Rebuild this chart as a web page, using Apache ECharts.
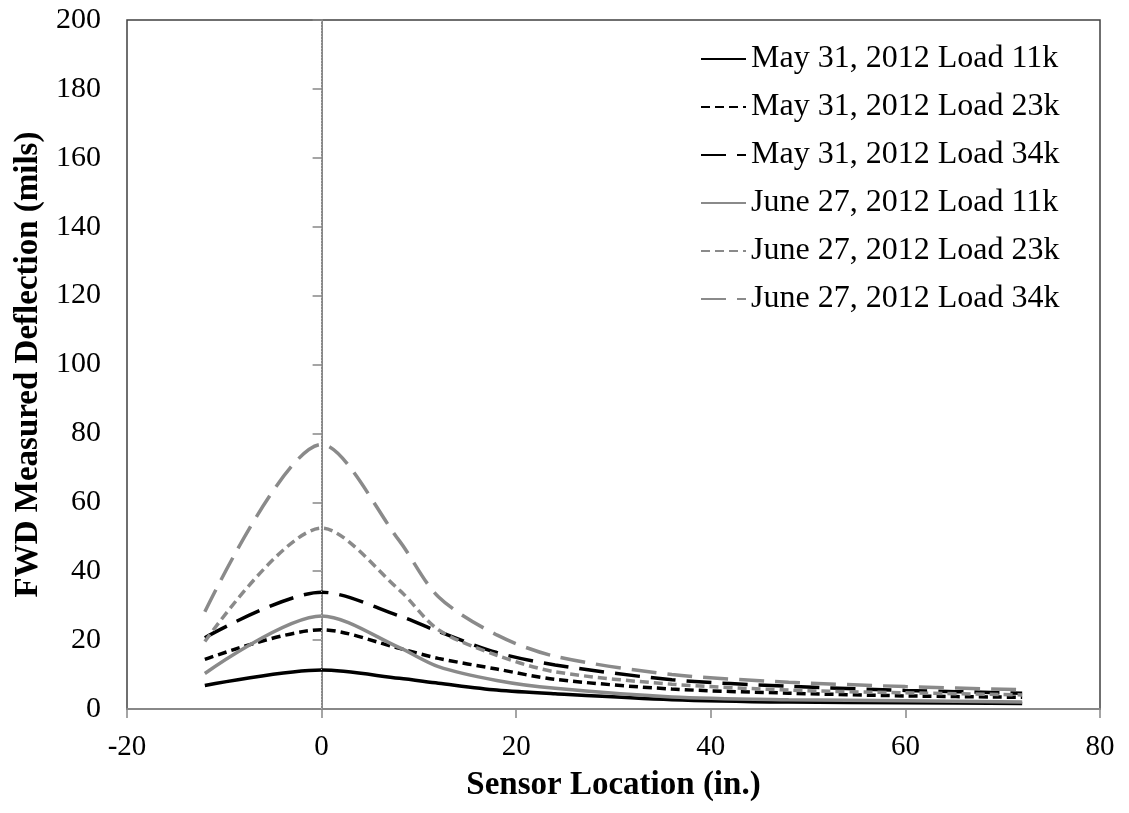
<!DOCTYPE html>
<html>
<head>
<meta charset="utf-8">
<script src="https://cdn.jsdelivr.net/npm/echarts@6/dist/echarts.min.js"></script>
<style>
  html, body { margin: 0; padding: 0; background: #fff; }
  #chart { width: 1129px; height: 813px; }
</style>
</head>
<body>
<div id="chart"></div>
<script>
// Sensor offsets from the load plate (in.)
var sensorLocations = [-12, 0, 8, 12, 18, 24, 36, 48, 60, 72];

// Measured deflections (mils) per test date and load level
var may11k  = [6.8, 11.3, 8.9, 7.5, 5.5, 4.4, 2.7, 2.0, 1.8, 1.6];
var may23k  = [14.4, 23.0, 17.6, 14.7, 11.6, 8.6, 5.8, 4.6, 3.8, 3.4];
var may34k  = [20.7, 33.9, 27.0, 22.5, 16.4, 12.8, 8.5, 6.6, 5.4, 4.6];
var june11k = [10.3, 27.0, 17.8, 12.3, 8.3, 6.0, 3.5, 2.7, 2.4, 2.0];
var june23k = [19.6, 52.5, 34.5, 23.0, 15.6, 10.8, 7.2, 5.5, 4.7, 4.1];
var june34k = [28.2, 76.8, 48.8, 32.6, 21.5, 15.3, 10.0, 7.8, 6.5, 5.6];

var seriesNames = [
  'May 31, 2012 Load 11k',
  'May 31, 2012 Load 23k',
  'May 31, 2012 Load 34k',
  'June 27, 2012 Load 11k',
  'June 27, 2012 Load 23k',
  'June 27, 2012 Load 34k'
];

function pairs(values) {
  return sensorLocations.map(function (x, i) { return [x, values[i]]; });
}

var BLACK = '#000000';
var GREY = '#8a8a8a';
var SHORT_DASH = [9, 5];
var LONG_DASH = [25, 11];
var FONT = '"Liberation Serif", "Times New Roman", serif';

function lineSeries(name, values, color, dash) {
  return {
    name: name,
    type: 'line',
    data: pairs(values),
    smooth: 0.3,
    symbol: 'none',
    showSymbol: false,
    lineStyle: { color: color, width: 3.5, type: dash, cap: 'butt' },
    itemStyle: { color: color },
    z: 3
  };
}

var series = [
  lineSeries(seriesNames[0], may11k, BLACK, 'solid'),
  lineSeries(seriesNames[1], may23k, BLACK, SHORT_DASH),
  lineSeries(seriesNames[2], may34k, BLACK, LONG_DASH),
  lineSeries(seriesNames[3], june11k, GREY, 'solid'),
  lineSeries(seriesNames[4], june23k, GREY, SHORT_DASH),
  lineSeries(seriesNames[5], june34k, GREY, LONG_DASH)
];

// Dotted reference line at the load centre, drawn as its own series
series.unshift({
  name: 'centre',
  type: 'line',
  data: [],
  symbol: 'none',
  silent: true,
  z: 1,
  markLine: {
    silent: true,
    symbol: ['none', 'none'],
    label: { show: false },
    emphasis: { disabled: true },
    lineStyle: { color: '#b4b4b4', width: 1, type: [1, 2] },
    data: [{ xAxis: 0 }]
  }
});

var chart = echarts.init(document.getElementById('chart'), null, { renderer: 'canvas' });

chart.setOption({
  animation: false,
  backgroundColor: '#ffffff',
  textStyle: { fontFamily: FONT },
  grid: {
    left: 127, right: 29, top: 20, bottom: 104,
    show: true,
    borderColor: '#404040',
    borderWidth: 1.5,
    backgroundColor: '#ffffff'
  },
  legend: {
    orient: 'vertical',
    left: 695,
    top: 38,
    itemWidth: 45,
    itemHeight: 14,
    itemGap: 16,
    selectedMode: false,
    itemStyle: { opacity: 0, borderWidth: 0 },
    textStyle: { fontFamily: FONT, fontSize: 32, color: '#000', lineHeight: 30 },
    data: seriesNames
  },
  xAxis: {
    type: 'value',
    min: -20, max: 80, interval: 20,
    name: 'Sensor Location (in.)',
    nameLocation: 'middle',
    nameGap: 60,
    nameTextStyle: { fontFamily: FONT, fontSize: 33, fontWeight: 'bold', color: '#000' },
    axisLine: { onZero: false, lineStyle: { color: '#888888', width: 2 } },
    axisTick: { show: true, inside: false, length: 9, lineStyle: { color: '#888888', width: 1.5 } },
    axisLabel: { margin: 24, fontFamily: FONT, fontSize: 29, color: '#000' },
    splitLine: { show: false }
  },
  yAxis: {
    type: 'value',
    min: 0, max: 200, interval: 20,
    name: 'FWD Measured Deflection (mils)',
    nameLocation: 'middle',
    nameGap: 82,
    nameTextStyle: { fontFamily: FONT, fontSize: 33, fontWeight: 'bold', color: '#000' },
    axisLine: { show: true, lineStyle: { color: '#888888', width: 2 } },
    axisTick: { show: true, inside: false, length: 9, lineStyle: { color: '#888888', width: 1.5 } },
    axisLabel: { margin: 26, fontFamily: FONT, fontSize: 30, color: '#000' },
    splitLine: { show: false }
  },
  series: series
});
</script>
</body>
</html>
